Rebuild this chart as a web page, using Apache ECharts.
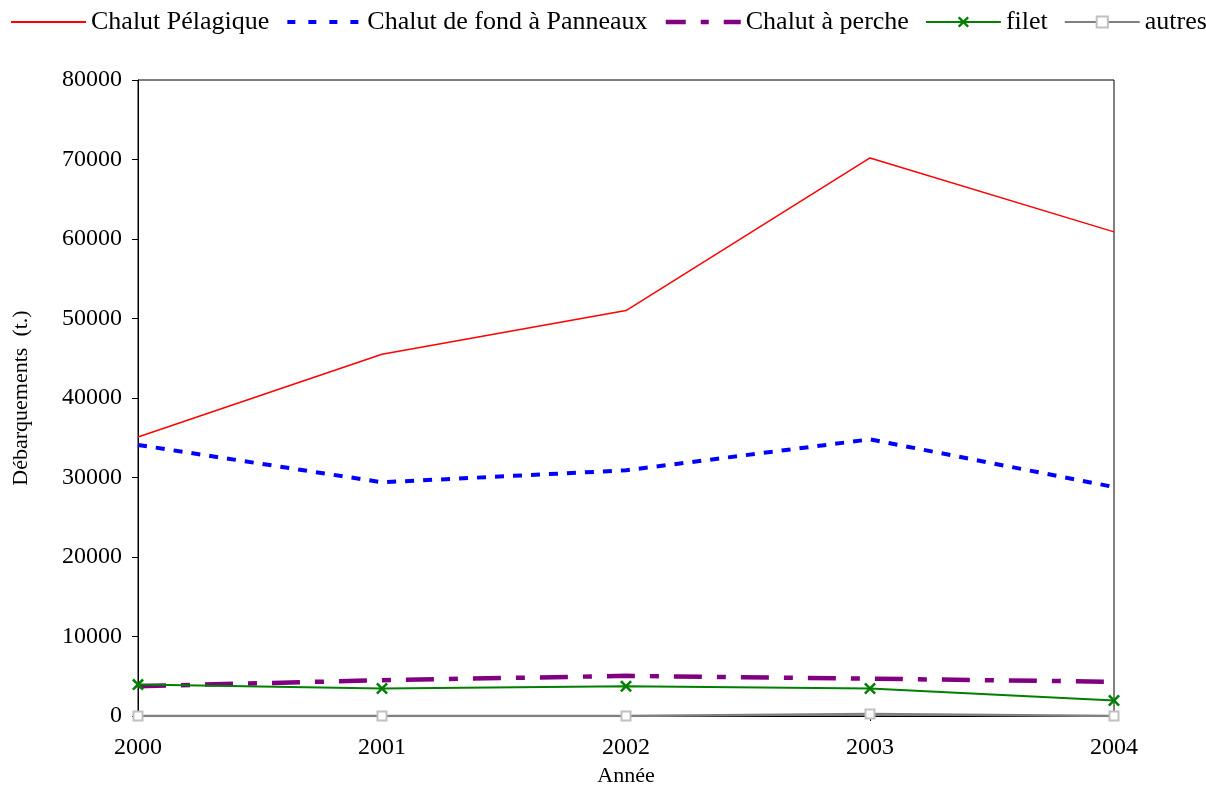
<!DOCTYPE html>
<html>
<head>
<meta charset="utf-8">
<script src="https://cdn.jsdelivr.net/npm/echarts@6/dist/echarts.min.js"></script>
<style>
  html, body { margin: 0; padding: 0; background: #fff; }
  #chart { width: 1206px; height: 785px; }
</style>
</head>
<body>
<div id="chart"></div>
<script>
// années
const years = ['2000', '2001', '2002', '2003', '2004'];
// débarquements (t.) par engin
const pelagique = [35100, 45500, 51000, 70200, 60900];
const fondPanneaux = [34100, 29400, 30900, 34800, 28800];
const perche = [3750, 4500, 5050, 4700, 4300];
const filet = [3950, 3450, 3750, 3450, 1950];
const autres = [0, 0, 0, 250, 0];

const serif = "'Liberation Serif', 'Times New Roman', serif";
const crossPath = 'path://M0,1.5L1.5,0L5,3.5L8.5,0L10,1.5L6.5,5L10,8.5L8.5,10L5,6.5L1.5,10L0,8.5L3.5,5Z';

const option = {
  backgroundColor: '#fff',
  animation: false,
  textStyle: { fontFamily: serif },
  legend: {
    left: 5,
    top: 4,
    width: 2000,
    itemWidth: 75,
    itemHeight: 14,
    itemGap: 16,
    textStyle: { fontSize: 26, color: '#000', fontFamily: serif },
    data: [
      { name: 'Chalut Pélagique', itemStyle: { opacity: 0 }, lineStyle: { width: 2 } },
      { name: 'Chalut de fond à Panneaux', itemStyle: { opacity: 0 }, lineStyle: { width: 4, type: [8, 13] } },
      { name: 'Chalut à perche', itemStyle: { opacity: 0 }, lineStyle: { width: 4.5, type: [20, 15, 8, 15] } },
      { name: 'filet', lineStyle: { width: 2 } },
      { name: 'autres', lineStyle: { width: 2 } }
    ]
  },
  grid: {
    left: 138,
    right: 92,
    top: 80,
    bottom: 69,
    outerBoundsMode: 'none',
    containLabel: false,
    show: true,
    borderColor: '#000',
    borderWidth: 1
  },
  xAxis: {
    type: 'category',
    data: years,
    boundaryGap: false,
    name: 'Année',
    nameLocation: 'middle',
    nameGap: 49,
    nameTextStyle: { fontSize: 22, color: '#000', fontFamily: serif },
    axisLine: { lineStyle: { color: '#000', width: 1 } },
    axisTick: { show: true, length: 5, lineStyle: { color: '#000' } },
    axisLabel: { fontSize: 24, color: '#000', margin: 20, fontFamily: serif },
    splitLine: { show: false }
  },
  yAxis: {
    type: 'value',
    min: 0,
    max: 80000,
    interval: 10000,
    name: 'Débarquements  (t.)',
    nameLocation: 'middle',
    nameGap: 106,
    nameTextStyle: { fontSize: 22, color: '#000', fontFamily: serif },
    axisLine: { show: true, lineStyle: { color: '#000', width: 1 } },
    axisTick: { show: true, length: 6, lineStyle: { color: '#000' } },
    axisLabel: { fontSize: 24, color: '#000', margin: 16, fontFamily: serif, formatter: v => String(v) },
    splitLine: { show: false }
  },
  series: [
    {
      name: 'Chalut Pélagique',
      type: 'line',
      data: pelagique,
      symbol: 'none',
      lineStyle: { color: '#ff0000', width: 1.5 },
      itemStyle: { color: '#ff0000' }
    },
    {
      name: 'Chalut de fond à Panneaux',
      type: 'line',
      data: fondPanneaux,
      symbol: 'none',
      lineStyle: { color: '#0000ff', width: 4, type: [9, 9], cap: 'butt' },
      itemStyle: { color: '#0000ff' }
    },
    {
      name: 'Chalut à perche',
      type: 'line',
      data: perche,
      symbol: 'none',
      lineStyle: { color: '#800080', width: 4.5, type: [28, 15, 9, 15], cap: 'butt' },
      itemStyle: { color: '#800080' }
    },
    {
      name: 'filet',
      type: 'line',
      data: filet,
      symbol: crossPath,
      symbolSize: 12,
      lineStyle: { color: '#008000', width: 2 },
      itemStyle: { color: '#008000' }
    },
    {
      name: 'autres',
      type: 'line',
      data: autres,
      symbol: 'rect',
      symbolSize: 9,
      lineStyle: { color: '#808080', width: 2.5 },
      itemStyle: { color: '#fff', borderColor: '#c0c0c0', borderWidth: 2 }
    }
  ]
};

const chart = echarts.init(document.getElementById('chart'), null, { renderer: 'canvas' });
chart.setOption(option);
</script>
</body>
</html>
